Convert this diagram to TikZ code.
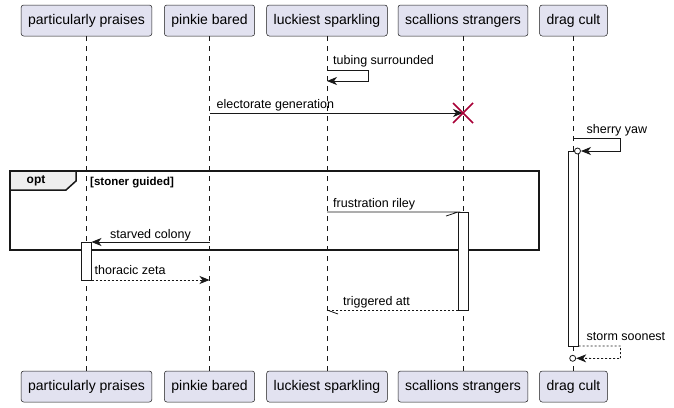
\documentclass[tikz,border=0pt]{standalone}
\usepackage{fontspec}
\setmainfont{Liberation Sans}
\usetikzlibrary{arrows.meta,
	calc,
	positioning}
\definecolor{boxfill}{HTML}{E2E2F0}
\definecolor{ink}{HTML}{181818}
\definecolor{kill}{HTML}{A80036}
\definecolor{tabfill}{HTML}{EEEEEE}
\tikzstyle{part}=[draw=ink, fill=boxfill, rounded corners=2.5pt, minimum height=31pt,
		inner xsep=7pt, line width=0.5pt, font=\fontsize{14}{16}\selectfont]
\tikzstyle{life}=[draw=ink, line width=0.5pt, dash pattern=on 5pt off 5pt]
\tikzstyle{act}=[draw=ink, fill=white, line width=0.8pt]
\tikzstyle{msg}=[draw=ink, line width=0.8pt, -{Stealth[length=10pt,width=8pt,inset=3pt]}]
\tikzstyle{ret}=[msg, dash pattern=on 2pt off 2pt]
\tikzstyle{half}=[draw=ink, line width=0.8pt]
\tikzstyle{lbl}=[anchor=base west, inner sep=0pt, font=\fontsize{12.5}{14}\selectfont]
\tikzstyle{frame}=[draw=ink, line width=1.5pt]

\begin{document}
\begin{tikzpicture}[x=1pt, y=-1pt]
                \useasboundingbox (0,0) rectangle (674,407);
                \node[part] (pp) at (86.5,20.5) {particularly praises};
                \node[part] (pb) at (209.5,20.5) {pinkie bared};
                \node[part] (ls) at (327,20.5) {luckiest sparkling};
                \node[part] (ss) at (463,20.5) {scallions strangers};
                \node[part] (dc) at (573.5,20.5) {drag cult};
                \node[part] (pp2) at (86.5,386.5) {particularly praises};
                \node[part] (pb2) at (209.5,386.5) {pinkie bared};
                \node[part] (ls2) at (327,386.5) {luckiest sparkling};
                \node[part] (ss2) at (463,386.5) {scallions strangers};
                \node[part] (dc2) at (573.5,386.5) {drag cult};
                \foreach \p in {pp,pb,ls,ss,dc}
                    \draw[life] (\p) -- (\p2);

                \draw[frame] (10,171) rectangle (539,250);
                \draw[frame, fill=tabfill] (10,171) -- (76,171) -- (76,181) -- (66,190) -- (10,190) -- cycle;
                \node[font=\fontsize{12}{14}\selectfont\bfseries, inner sep=0pt] (optl) at (36,181) {opt};
                \node[anchor=base west, inner sep=0pt, font=\fontsize{11.5}{13}\selectfont\bfseries] (guard) at (90,185) {[stoner guided]};

                \draw[act] ($(pp |- 0,242)+(-5,0)$) coordinate (ppa) rectangle ($(pp |- 0,280)+(5,0)$) coordinate (ppb);
                \draw[act] ($(ss |- 0,212)+(-5,0)$) coordinate (ssa) rectangle ($(ss |- 0,310)+(5,0)$) coordinate (ssb);
                \draw[act] ($(dc |- 0,151)+(-5,0)$) coordinate (dca) rectangle ($(dc |- 0,346)+(5,0)$) coordinate (dcb);

                \coordinate (t1) at (ls |- 0,70);
                \coordinate (t2) at (ls |- 0,81);
                \draw[msg] (t1) -- ++(41,0) -- ++(0,11) -- (t2);
                \node[lbl] (tl) at (333,64.5) {tubing surrounded};

                \coordinate (e1) at (pb |- 0,113);
                \coordinate (e2) at (ss |- 0,113);
                \draw[msg] (e1) -- (e2);
                \draw[kill, line width=1.5pt] ($(e2)+(-10,-10)$) -- ($(e2)+(10,10)$)
                    ($(e2)+(-10,10)$) -- ($(e2)+(10,-10)$);
                \node[lbl] (el) at (216.5,108) {electorate generation};

                \coordinate (s1) at (dc |- 0,138);
                \coordinate (s2) at (577.5,151);
                \draw[msg] (s1) -- ++(47,0) -- ++(0,13) -- ($(s2)+(3.5,0)$);
                \draw[ink, line width=0.8pt, fill=white] (s2) circle (3);
                \node[lbl] (sl) at (586.5,133) {sherry yaw};

                \coordinate (f1) at (ls |- 0,212);
                \coordinate (f2) at (ssa);
                \draw[half] (f1) -- (f2) -- ++(-12,4);
                \node[lbl] (fl) at (333,207) {frustration riley};

                \coordinate (c1) at (pb |- 0,242);
                \coordinate (c2) at (ppa -| ppb);
                \draw[msg] (c1) -- (c2);
                \node[lbl] (cl) at (110,238) {starved colony};

                \coordinate (z1) at (ppb);
                \coordinate (z2) at (pb |- ppb);
                \draw[ret] (z1) -- (z2);
                \node[lbl] (zl) at (94.5,274.5) {thoracic zeta};

                \coordinate (g1) at (ssa |- ssb);
                \coordinate (g2) at (ls |- ssb);
                \draw[half, dash pattern=on 2pt off 2pt] (g1) -- (g2);
                \draw[half] (g2) -- ++(11,4);
                \node[lbl] (gl) at (343,305.5) {triggered att};

                \coordinate (o1) at (dcb);
                \coordinate (o2) at (572.7,358.3);
                \draw[ret] (o1) -- ++(42,0) -- ++(0,12.6) -- ($(o2)+(3.5,0)$);
                \draw[ink, line width=0.8pt, fill=white] (o2) circle (3);
                \node[lbl] (ol) at (586.5,340.5) {storm soonest};
\end{tikzpicture}
\end{document}
